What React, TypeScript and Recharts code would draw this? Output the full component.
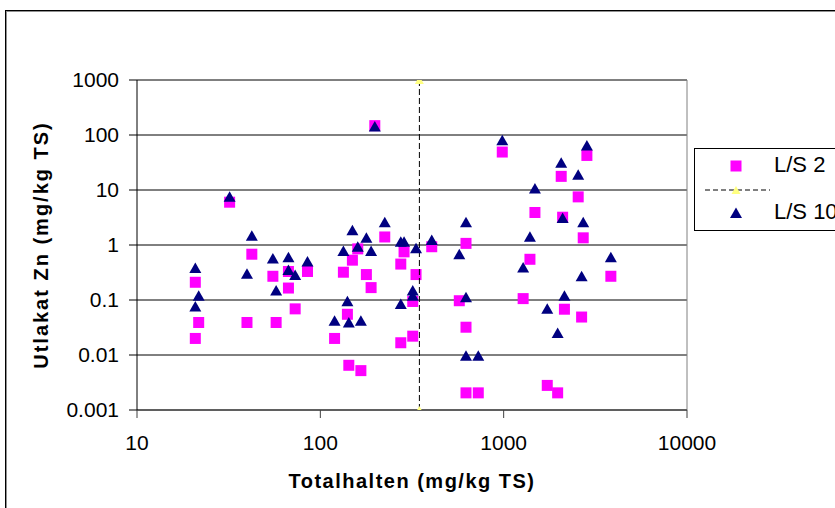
import React from 'react';
import { ScatterChart, Scatter, XAxis, YAxis, CartesianGrid, ReferenceLine, Legend, Label } from 'recharts';

// Totalhalten (mg/kg TS) vs Utlakat Zn (mg/kg TS)
const ls2Points: [number, number][] = [
  [20.8, 0.21], [20.8, 0.02], [21.7, 0.039], [32, 6.0], [39.8, 0.039], [42.3, 0.68],
  [55.1, 0.27], [57.4, 0.039], [67, 0.33], [67, 0.165], [72.9, 0.069], [85.1, 0.33],
  [119.6, 0.02], [133.6, 0.32], [140.5, 0.055], [143, 0.0065], [149.6, 0.53], [160, 0.85],
  [166.4, 0.0052], [178.3, 0.29], [189.2, 0.168], [198.2, 148], [224.6, 1.4], [274.7, 0.45],
  [274.7, 0.0167], [286.2, 0.75], [319.2, 0.094], [319.2, 0.022], [332.7, 0.29], [405.2, 0.93],
  [572.8, 0.097], [623.1, 1.07], [623.1, 0.032], [623.1, 0.00205], [727, 0.00205], [982.6, 49],
  [1277, 0.106], [1391, 0.55], [1481, 3.9], [1729, 0.0028], [1970, 0.00205], [2060, 17.7],
  [2097, 3.2], [2145, 0.068], [2550, 7.5], [2662, 0.049], [2716, 1.35], [2844, 42.5], [3843, 0.27],
];

const ls10Points: [number, number][] = [
  [20.8, 0.38], [20.8, 0.076], [21.7, 0.119], [32, 7.5], [39.8, 0.3], [42.3, 1.48],
  [55.1, 0.57], [57.4, 0.149], [67, 0.6], [67, 0.35], [72.9, 0.285], [85.1, 0.5],
  [119.6, 0.042], [133.6, 0.78], [140.5, 0.095], [143, 0.039], [149.6, 1.86], [160, 0.93],
  [166.4, 0.042], [178.3, 1.35], [189.2, 0.78], [198.2, 143], [224.6, 2.6], [274.7, 1.14],
  [274.7, 0.085], [286.2, 1.14], [319.2, 0.149], [319.2, 0.12], [332.7, 0.87], [405.2, 1.23],
  [572.8, 0.68], [623.1, 2.6], [623.1, 0.112], [623.1, 0.0097], [727, 0.0097], [982.6, 80],
  [1277, 0.39], [1391, 1.41], [1481, 10.6], [1729, 0.069], [1970, 0.025], [2060, 31.4],
  [2097, 3.1], [2145, 0.12], [2550, 19], [2662, 0.27], [2716, 2.6], [2844, 64.5], [3843, 0.6],
];

const limitX = 347;
const limitY = [0.001, 1000];

const xTicks = [10, 100, 1000, 10000];
const yTicks = [0.001, 0.01, 0.1, 1, 10, 100, 1000];

const seriesNames = ['L/S 2', '', 'L/S 10'];

const ls2Data = ls2Points.map(([x, y]) => ({ x, y }));
const ls10Data = ls10Points.map(([x, y]) => ({ x, y }));
const limitData = limitY.map((y) => ({ x: limitX, y }));

const FONT = "'Liberation Sans', Arial, sans-serif";
const PINK = '#FF00FF';
const NAVY = '#000080';
const YELLOW = '#FFFF80';

const Square = (p: any) => (
  <rect x={p.cx - 5.5} y={p.cy - 5.5} width={11} height={11} fill={PINK} />
);
const Tri = (p: any) => (
  <polygon
    points={`${p.cx},${p.cy - 5.5} ${p.cx - 6},${p.cy + 5} ${p.cx + 6},${p.cy + 5}`}
    fill={NAVY}
  />
);
const SmallTri = (p: any) => (
  <polygon
    points={`${p.cx},${p.cy - 4} ${p.cx - 4.5},${p.cy + 4} ${p.cx + 4.5},${p.cy + 4}`}
    fill={YELLOW}
  />
);

const LegendBox = () => (
  <div style={{ width: 220, height: 81, border: '1px solid #000', background: '#fff' }}>
    <svg width={220} height={81} style={{ display: 'block' }}>
      <Square cx={41} cy={17} />
      <text x={79} y={23} fontSize={22} fontFamily={FONT} fill="#000">{seriesNames[0]}</text>
      <line x1={10} x2={75} y1={41} y2={41} stroke="#000" strokeDasharray="5 3" />
      <SmallTri cx={41} cy={41} />
      <Tri cx={41} cy={64} />
      <text x={79} y={69.5} fontSize={22} fontFamily={FONT} fill="#000">{seriesNames[2]}</text>
    </svg>
  </div>
);

export default function App() {
  return (
    <div style={{ position: 'absolute', left: 0, top: 0, width: 835, height: 508, overflow: 'hidden', background: '#fff' }}>
      <div style={{ position: 'absolute', left: 5, top: 10, width: 1000, height: 1000, border: '1px solid #000', boxShadow: 'inset 1px 1px 0 #909090' }} />
      <div style={{ position: 'absolute', left: 0, top: 0 }}>
        <ScatterChart width={835} height={508} margin={{ top: 80, right: 148, bottom: 0, left: 0 }}>
          <CartesianGrid vertical={false} stroke="#000" horizontalValues={yTicks} />
          <XAxis
            type="number"
            dataKey="x"
            scale="log"
            domain={[10, 10000]}
            ticks={xTicks}
            height={98}
            tickSize={8}
            tickMargin={17}
            stroke="#404040"
            tick={{ fill: '#000', fontSize: 21, fontFamily: FONT }}
            allowDataOverflow
          >
            <Label
              value="Totalhalten (mg/kg TS)"
              position="insideBottom"
              offset={20}
              style={{ fontSize: 20, fontWeight: 'bold', fontFamily: FONT, fill: '#000', letterSpacing: 1.5 }}
            />
          </XAxis>
          <YAxis
            type="number"
            dataKey="y"
            scale="log"
            domain={[0.001, 1000]}
            ticks={yTicks}
            width={137}
            tickSize={8}
            tickMargin={10}
            stroke="#000"
            tick={{ fill: '#000', fontSize: 21, fontFamily: FONT }}
            allowDataOverflow
          >
            <Label
              value="Utlakat Zn (mg/kg TS)"
              angle={-90}
              position="insideLeft"
              offset={41}
              style={{ fontSize: 20, fontWeight: 'bold', fontFamily: FONT, fill: '#000', textAnchor: 'middle', letterSpacing: 2 }}
            />
          </YAxis>
          <ReferenceLine x={10000} stroke="#808080" />
          <ReferenceLine y={1000} stroke="#808080" />
          <Legend
            layout="vertical"
            align="center"
            verticalAlign="middle"
            content={() => <LegendBox />}
            wrapperStyle={{ left: 694, top: 148, width: 220, height: 83 }}
          />
          <Scatter name={seriesNames[0]} data={ls2Data} shape={Square} isAnimationActive={false} />
          <Scatter
            name="limit"
            data={limitData}
            shape={SmallTri}
            line={{ stroke: '#000', strokeDasharray: '6 3', strokeWidth: 1 }}
            isAnimationActive={false}
          />
          <Scatter name={seriesNames[2]} data={ls10Data} shape={Tri} isAnimationActive={false} />
        </ScatterChart>
      </div>
    </div>
  );
}
